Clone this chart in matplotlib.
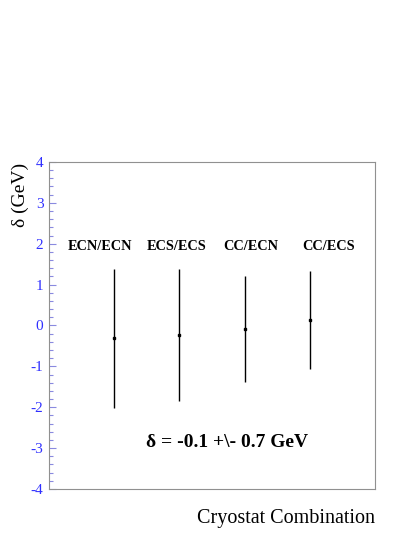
import matplotlib
matplotlib.use("Agg")
import matplotlib.pyplot as plt
from matplotlib.ticker import MultipleLocator

categories = ["ECN/ECN", "ECS/ECS", "CC/ECN", "CC/ECS"]
positions = [1, 2, 3, 4]
delta = [-0.31, -0.23, -0.09, 0.13]
errors = [1.70, 1.61, 1.29, 1.20]
yticks = [-4, -3, -2, -1, 0, 1, 2, 3, 4]

plt.rcParams['font.family'] = ['Liberation Serif', 'DejaVu Serif']

fig = plt.figure(figsize=(4.15, 5.37), dpi=100)
ax = fig.add_axes([0.118, 0.0894, 0.786, 0.609])

ax.errorbar(positions, delta, yerr=errors, fmt='s', color='black',
            markersize=2.0, elinewidth=1.0, capsize=0)

ax.set_xlim(0, 5)
ax.set_ylim(-4, 4)
ax.set_yticks(yticks)
ax.set_yticklabels([str(v) for v in yticks])
ax.yaxis.set_minor_locator(MultipleLocator(0.2))
ax.set_xticks([])
ax.tick_params(axis='y', which='major', direction='in', length=5, width=0.8,
               colors='#8a8ae0', labelcolor='#3030ff', labelsize=11, pad=4)
ax.tick_params(axis='y', which='minor', direction='in', length=3, width=0.8,
               colors='#8a8ae0')
for s in ax.spines.values():
    s.set_color('#909090')
    s.set_linewidth(0.8)

label_offsets = [-0.22, -0.05, 0.09, 0.29]
for p, off, c in zip(positions, label_offsets, categories):
    ax.text(p + off, 1.92, c, ha='center', va='center', fontsize=10.3,
            fontweight='bold')

ax.text(1.48, -2.86, "δ = -0.1 +\\- 0.7 GeV", ha='left', va='center',
        fontsize=14, fontweight='bold')

ax.set_ylabel("δ (GeV)", fontsize=14)
ax.yaxis.set_label_coords(-0.089, 0.899)
ax.yaxis.label.set_verticalalignment('center')
ax.set_xlabel("Cryostat Combination", fontsize=14.5)
ax.xaxis.set_label_coords(1.0, -0.062)
ax.xaxis.label.set_horizontalalignment('right')
ax.xaxis.label.set_verticalalignment('top')

fig.savefig("out.png", dpi=100)
